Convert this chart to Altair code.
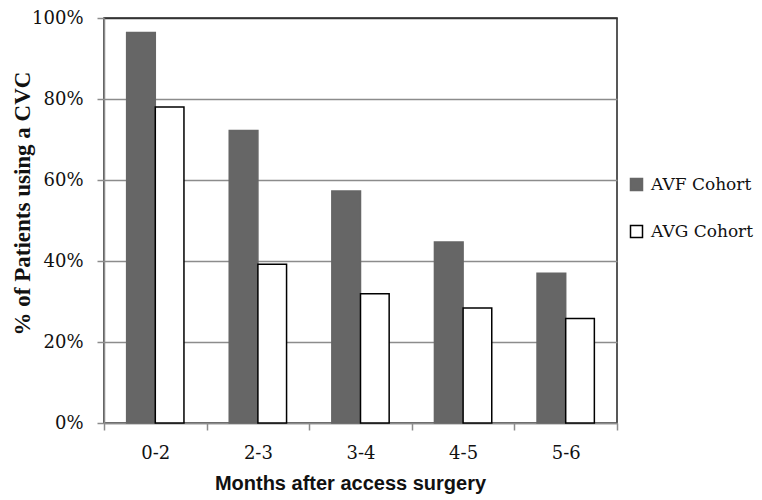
import altair as alt
import pandas as pd

months = ["0-2", "2-3", "3-4", "4-5", "5-6"]
cohorts = ["AVF Cohort", "AVG Cohort"]
avf_values = [0.964, 0.722, 0.573, 0.447, 0.370]
avg_values = [0.780, 0.392, 0.319, 0.284, 0.258]
y_ticks = [0, 0.2, 0.4, 0.6, 0.8, 1.0]

rows = []
for m, a, g in zip(months, avf_values, avg_values):
    rows.append({"month": m, "cohort": cohorts[0], "value": a})
    rows.append({"month": m, "cohort": cohorts[1], "value": g})
df = pd.DataFrame(rows)

serif = "DejaVu Serif"

chart = alt.Chart(df).mark_bar(strokeWidth=1.5).encode(
    x=alt.X(
        "month:N",
        sort=months,
        scale=alt.Scale(paddingInner=0, paddingOuter=0),
        axis=alt.Axis(
            title="Months after access surgery",
            labelAngle=0,
            tickBand="extent",
            tickSize=7,
            labelPadding=28,
            labelBaseline="alphabetic",
            labelFont=serif,
            labelFontSize=18,
            labelColor="#111",
            titleFont="Liberation Sans",
            titleFontSize=20,
            titleFontWeight="bold",
            titleColor="#111",
            titleX=246,
            titleY=66,
            titleAlign="center",
            titleBaseline="alphabetic",
            grid=False,
        ),
    ),
    xOffset=alt.XOffset(
        "cohort:N",
        sort=cohorts,
        scale=alt.Scale(paddingInner=0, paddingOuter=0.79),
    ),
    y=alt.Y(
        "value:Q",
        scale=alt.Scale(domain=[0, 1], nice=False),
        axis=alt.Axis(
            title="% of Patients using a CVC",
            values=y_ticks,
            format=".0%",
            tickSize=7,
            labelPadding=14,
            labelFont=serif,
            labelFontSize=18,
            labelColor="#111",
            titleFont="Liberation Serif",
            titleFontSize=23,
            titleFontWeight="bold",
            titleColor="#111",
            titleX=-82,
            titleY=185,
            titleAngle=270,
            titleAlign="center",
            titleBaseline="middle",
            grid=True,
            gridColor={"condition": {"test": "datum.value >= 1", "value": "#333333"}, "value": "#8c8c8c"},
            gridWidth=1.5,
        ),
    ),
    fill=alt.Fill(
        "cohort:N",
        sort=cohorts,
        scale=alt.Scale(domain=cohorts, range=["#666666", "#ffffff"]),
        legend=alt.Legend(
            title=None,
            orient="none",
            legendX=524,
            legendY=158,
            symbolType="square",
            symbolSize=144,
            symbolStrokeWidth=1.5,
            labelFont=serif,
            labelFontSize=17,
            labelColor="#111",
            labelOffset=6,
            rowPadding=28,
            padding=0,
        ),
    ),
    stroke=alt.Stroke(
        "cohort:N",
        sort=cohorts,
        scale=alt.Scale(domain=cohorts, range=["#666666", "#000000"]),
        legend=None,
    ),
).properties(
    width=513,
    height=405,
    autosize=alt.AutoSizeParams(type="none"),
    padding={"left": 96, "top": 10, "right": 137, "bottom": 76},
).configure_view(
    stroke="#222222",
    strokeWidth=1.5,
).configure_axis(
    domainColor="#8c8c8c",
    domainWidth=1.5,
    tickColor="#8c8c8c",
    tickWidth=1.5,
)

chart.save("out.html", embed_options={"renderer": "svg", "actions": False})
